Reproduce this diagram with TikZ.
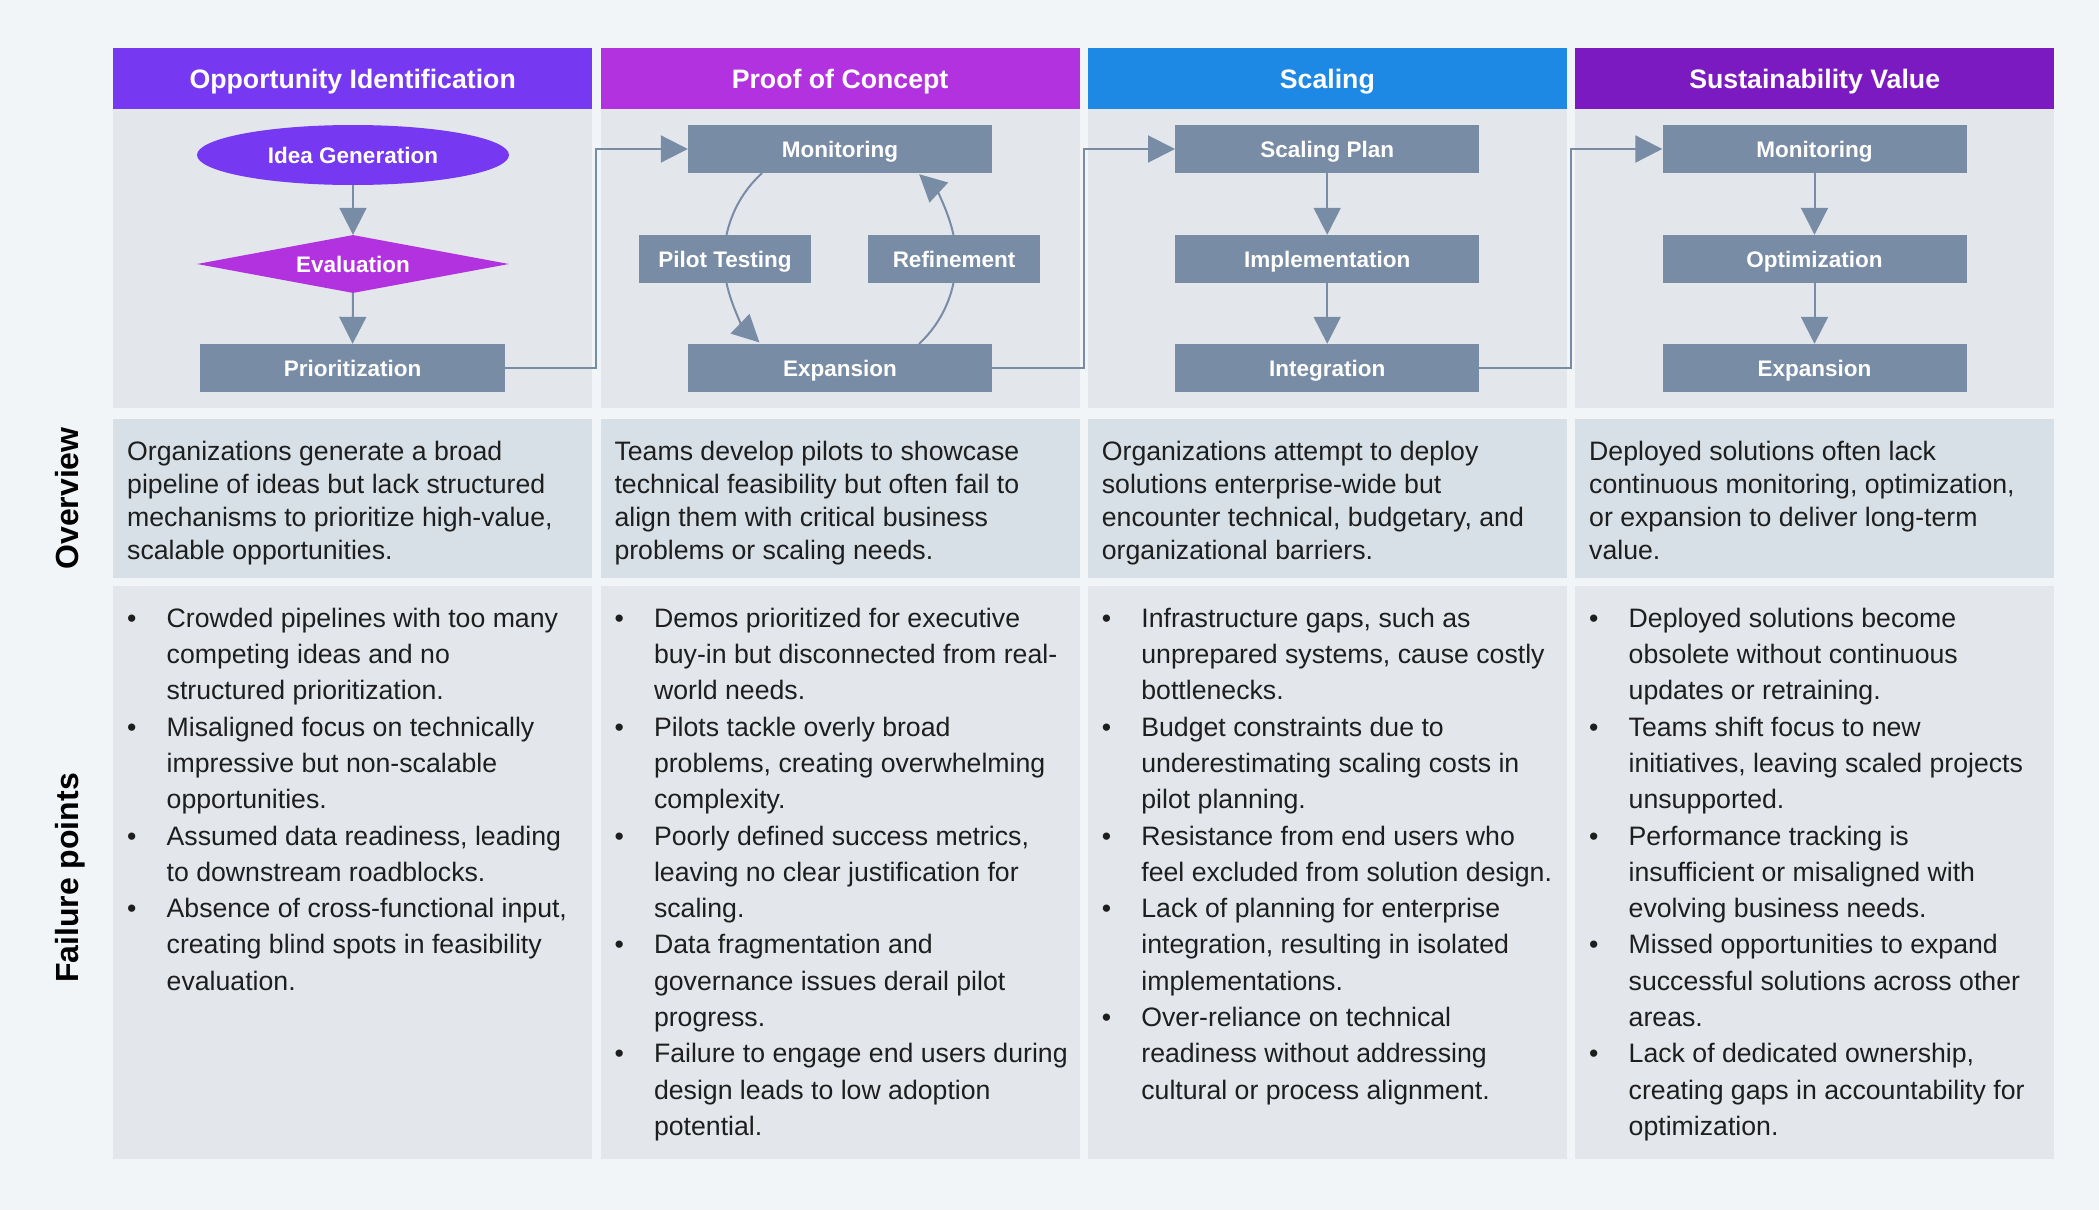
\documentclass[tikz,border=0pt]{standalone}
\usepackage{fontspec}
\setmainfont{Liberation Sans}
\usetikzlibrary{shapes.geometric,arrows.meta}
\definecolor{bgc}{HTML}{F2F5F8}
\definecolor{panelc}{HTML}{E3E7EC}
\definecolor{ovc}{HTML}{D6E0E6}
\definecolor{hA}{HTML}{7638F0}
\definecolor{hB}{HTML}{B232E0}
\definecolor{hC}{HTML}{1E88E5}
\definecolor{hD}{HTML}{7B1AC0}
\definecolor{slate}{HTML}{788CA6}
\definecolor{txt}{HTML}{1E1E1E}
\newcommand{\mybul}{\textbullet}
\tikzset{
  hdr/.style={fill=#1, text=white, anchor=north west, minimum width=479pt, minimum height=61pt, inner sep=0pt, text height=19.1pt, text depth=0pt, font=\fontsize{26.7}{30}\selectfont\bfseries},
  panel/.style={fill=#1, anchor=north west, minimum width=479pt, inner sep=0pt},
  lbl/.style={text=white, text height=16.1pt, text depth=0pt, font=\fontsize{22.5}{27}\selectfont\bfseries},
  proc/.style={lbl, fill=slate, minimum width=304pt, minimum height=48pt, inner sep=0pt},
  conn/.style={draw=slate, line width=2pt, -{Triangle[width=27pt,length=27pt]}},
  link/.style={draw=slate, line width=2pt},
  ovtext/.style={anchor=north west, inner sep=0pt, text=txt, font=\fontsize{26.67}{33}\selectfont},
  fptext/.style={anchor=north west, inner sep=0pt, text=txt, font=\fontsize{26.67}{36.3}\selectfont},
  rowlab/.style={rotate=90, anchor=base, text=black, font=\fontsize{32}{36}\selectfont\bfseries}
}
\begin{document}
\begin{tikzpicture}[x=1pt,y=-1pt]
\fill[bgc] (0,0) rectangle (2099,1210);
\useasboundingbox (0,0) rectangle (2099,1210);

% headers
\node[hdr=hA] (h1) at (113,48) {Opportunity Identification};
\node[hdr=hB] (h2) at (600.33,48) {Proof of Concept};
\node[hdr=hC] (h3) at (1087.67,48) {Scaling};
\node[hdr=hD] (h4) at (1575,48) {Sustainability Value};

% panels
\node[panel=panelc, minimum height=299pt] (t1) at (113,109) {};
\node[panel=panelc, minimum height=299pt] (t2) at (600.33,109) {};
\node[panel=panelc, minimum height=299pt] (t3) at (1087.67,109) {};
\node[panel=panelc, minimum height=299pt] (t4) at (1575,109) {};
\node[panel=ovc, minimum height=159pt] (o1) at (113,419) {};
\node[panel=ovc, minimum height=159pt] (o2) at (600.33,419) {};
\node[panel=ovc, minimum height=159pt] (o3) at (1087.67,419) {};
\node[panel=ovc, minimum height=159pt] (o4) at (1575,419) {};
\node[panel=panelc, minimum height=573pt] (f1) at (113,586) {};
\node[panel=panelc, minimum height=573pt] (f2) at (600.33,586) {};
\node[panel=panelc, minimum height=573pt] (f3) at (1087.67,586) {};
\node[panel=panelc, minimum height=573pt] (f4) at (1575,586) {};

% row labels
\node[rowlab] (lov) at (78,498.5) {Overview};
\node[rowlab] (lfp) at (78,878) {Failure points};

% column 1 flow
\node[lbl, ellipse, fill=hA, minimum width=312pt, minimum height=60pt, inner sep=0pt] (idea) at (353,155) {Idea Generation};
\node[lbl, diamond, fill=hB, shape aspect=5.4, minimum width=312pt, minimum height=58pt, inner sep=1pt] (eval) at (353,264) {Evaluation};
\node[proc, minimum width=305pt] (prio) at (352.5,368) {Prioritization};
\draw[conn] (idea) -- (eval);
\draw[conn] (eval) -- (prio);

% column 2 flow
\node[proc] (mon1) at (840,149) {Monitoring};
\node[proc, minimum width=172pt] (pilot) at (725,259) {Pilot Testing};
\node[proc, minimum width=172pt] (refine) at (954,259) {Refinement};
\node[proc] (exp1) at (840,368) {Expansion};
\coordinate (cyc) at (840,259);
\draw[link] ([shift={(132.2:116pt)}]cyc) arc[start angle=132.2, end angle=168, radius=116pt];
\draw[conn] ([shift={(192:116pt)}]cyc) arc[start angle=192, end angle=226, radius=116pt];
\draw[link] ([shift={(-47.1:116pt)}]cyc) arc[start angle=-47.1, end angle=-12, radius=116pt];
\draw[conn] ([shift={(12:116pt)}]cyc) arc[start angle=12, end angle=47, radius=116pt];

% column 3 flow
\node[proc] (plan) at (1327.2,149) {Scaling Plan};
\node[proc] (impl) at (1327.2,259) {Implementation};
\node[proc] (integ) at (1327.2,368) {Integration};
\draw[conn] (plan) -- (impl);
\draw[conn] (impl) -- (integ);

% column 4 flow
\node[proc] (mon2) at (1814.5,149) {Monitoring};
\node[proc] (opt) at (1814.5,259) {Optimization};
\node[proc] (exp2) at (1814.5,368) {Expansion};
\draw[conn] (mon2) -- (opt);
\draw[conn] (opt) -- (exp2);

% cross-column connectors
\coordinate (g1) at (596,0);
\coordinate (g2) at (1083.5,0);
\coordinate (g3) at (1571,0);
\draw[conn] (prio.east) -- (prio.east -| g1) |- (mon1.west);
\draw[conn] (exp1.east) -- (exp1.east -| g2) |- (plan.west);
\draw[conn] (integ.east) -- (integ.east -| g3) |- (mon2.west);

% overview texts
\node[ovtext] (ov1) at (127,436.9) {\begin{tabular}{@{}l@{}}
Organizations generate a broad\\
pipeline of ideas but lack structured\\
mechanisms to prioritize high-value,\\
scalable opportunities.\end{tabular}};
\node[ovtext] (ov2) at (614.33,436.9) {\begin{tabular}{@{}l@{}}
Teams develop pilots to showcase\\
technical feasibility but often fail to\\
align them with critical business\\
problems or scaling needs.\end{tabular}};
\node[ovtext] (ov3) at (1101.67,436.9) {\begin{tabular}{@{}l@{}}
Organizations attempt to deploy\\
solutions enterprise-wide but\\
encounter technical, budgetary, and\\
organizational barriers.\end{tabular}};
\node[ovtext] (ov4) at (1589,436.9) {\begin{tabular}{@{}l@{}}
Deployed solutions often lack\\
continuous monitoring, optimization,\\
or expansion to deliver long-term\\
value.\end{tabular}};

% failure points
\node[fptext] (fp1) at (127,601.6) {\begin{tabular}{@{}p{39.5pt}@{}l@{}}
\mybul & Crowded pipelines with too many\\
 & competing ideas and no\\
 & structured prioritization.\\
\mybul & Misaligned focus on technically\\
 & impressive but non-scalable\\
 & opportunities.\\
\mybul & Assumed data readiness, leading\\
 & to downstream roadblocks.\\
\mybul & Absence of cross-functional input,\\
 & creating blind spots in feasibility\\
 & evaluation.\end{tabular}};
\node[fptext] (fp2) at (614.33,601.6) {\begin{tabular}{@{}p{39.5pt}@{}l@{}}
\mybul & Demos prioritized for executive\\
 & buy-in but disconnected from real-\\
 & world needs.\\
\mybul & Pilots tackle overly broad\\
 & problems, creating overwhelming\\
 & complexity.\\
\mybul & Poorly defined success metrics,\\
 & leaving no clear justification for\\
 & scaling.\\
\mybul & Data fragmentation and\\
 & governance issues derail pilot\\
 & progress.\\
\mybul & Failure to engage end users during\\
 & design leads to low adoption\\
 & potential.\end{tabular}};
\node[fptext] (fp3) at (1101.67,601.6) {\begin{tabular}{@{}p{39.5pt}@{}l@{}}
\mybul & Infrastructure gaps, such as\\
 & unprepared systems, cause costly\\
 & bottlenecks.\\
\mybul & Budget constraints due to\\
 & underestimating scaling costs in\\
 & pilot planning.\\
\mybul & Resistance from end users who\\
 & feel excluded from solution design.\\
\mybul & Lack of planning for enterprise\\
 & integration, resulting in isolated\\
 & implementations.\\
\mybul & Over-reliance on technical\\
 & readiness without addressing\\
 & cultural or process alignment.\end{tabular}};
\node[fptext] (fp4) at (1589,601.6) {\begin{tabular}{@{}p{39.5pt}@{}l@{}}
\mybul & Deployed solutions become\\
 & obsolete without continuous\\
 & updates or retraining.\\
\mybul & Teams shift focus to new\\
 & initiatives, leaving scaled projects\\
 & unsupported.\\
\mybul & Performance tracking is\\
 & insufficient or misaligned with\\
 & evolving business needs.\\
\mybul & Missed opportunities to expand\\
 & successful solutions across other\\
 & areas.\\
\mybul & Lack of dedicated ownership,\\
 & creating gaps in accountability for\\
 & optimization.\end{tabular}};
\end{tikzpicture}
\end{document}
